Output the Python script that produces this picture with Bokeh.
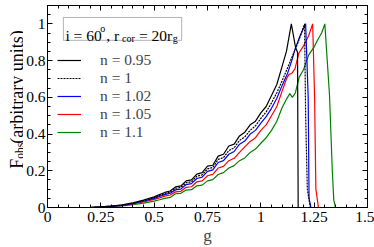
import math
from bokeh.plotting import figure
from bokeh.layouts import row
from bokeh.core.properties import value
from bokeh.models import (FixedTicker, LinearAxis, Range1d, Legend, LegendItem,
                          Label, BoxAnnotation)
from bokeh.embed import file_html
from bokeh.resources import INLINE

FONT = "Liberation Serif, serif"

# ---------------- data ----------------
g_base = [0.15, 0.2, 0.25, 0.3, 0.35, 0.4, 0.45, 0.5,
          0.525, 0.55, 0.575, 0.6, 0.625, 0.65, 0.675, 0.7, 0.725, 0.75,
          0.775, 0.8, 0.825, 0.85, 0.875, 0.9, 0.925, 0.95, 0.975, 1.0,
          1.025, 1.05, 1.075, 1.1]

g_095 = g_base + [1.12, 1.143, 1.163, 1.172, 1.175, 1.2]
f_095 = [0, 0, 0.003, 0.008, 0.015, 0.025, 0.04, 0.058,
         0.07, 0.082, 0.09, 0.112, 0.118, 0.145, 0.15, 0.182, 0.19, 0.225,
         0.23, 0.28, 0.29, 0.335, 0.345, 0.39, 0.41, 0.45, 0.47, 0.515,
         0.55, 0.61, 0.67, 0.77,
         0.85, 1.0, 0.87, 0.845, 0.0, 0.0]

g_100 = g_base + [1.125, 1.15, 1.175, 1.19, 1.205, 1.21, 1.218, 1.232, 1.25]
f_100 = [0, 0, 0.003, 0.007, 0.013, 0.023, 0.037, 0.054,
         0.065, 0.076, 0.084, 0.104, 0.11, 0.135, 0.14, 0.17, 0.178, 0.21,
         0.218, 0.262, 0.272, 0.31, 0.325, 0.365, 0.385, 0.42, 0.445, 0.485,
         0.52, 0.57, 0.625, 0.69,
         0.76, 0.83, 0.9, 0.95, 1.0, 0.5, 0.1, 0.0, 0.0]

g_102 = g_base + [1.125, 1.145, 1.16, 1.182, 1.21, 1.222, 1.226, 1.235, 1.25]
f_102 = [0, 0, 0.003, 0.007, 0.012, 0.021, 0.034, 0.05,
         0.06, 0.07, 0.078, 0.096, 0.1, 0.125, 0.13, 0.158, 0.165, 0.197,
         0.205, 0.245, 0.255, 0.29, 0.305, 0.345, 0.362, 0.4, 0.42, 0.46,
         0.495, 0.54, 0.595, 0.665,
         0.73, 0.8, 0.86, 0.93, 1.0, 0.6, 0.05, 0.0, 0.0]

g_105 = g_base + [1.12, 1.132, 1.145, 1.16, 1.178, 1.2, 1.224, 1.243, 1.252,
                  1.258, 1.27, 1.28]
f_105 = [0, 0, 0.002, 0.006, 0.011, 0.019, 0.03, 0.044,
         0.052, 0.062, 0.068, 0.085, 0.088, 0.11, 0.113, 0.14, 0.145, 0.173,
         0.18, 0.215, 0.224, 0.255, 0.268, 0.3, 0.33, 0.36, 0.38, 0.42,
         0.45, 0.5, 0.55, 0.635,
         0.7, 0.725, 0.73, 0.755, 0.84, 0.88, 0.935, 1.0, 0.6, 0.1, 0.0, 0.0]

g_110 = g_base + [1.12, 1.136, 1.148, 1.162, 1.18, 1.2, 1.224, 1.25, 1.27,
                  1.285, 1.3, 1.322, 1.335, 1.342, 1.35, 1.36]
f_110 = [0, 0, 0.002, 0.005, 0.009, 0.015, 0.024, 0.035,
         0.042, 0.05, 0.055, 0.075, 0.077, 0.095, 0.097, 0.118, 0.122, 0.145,
         0.152, 0.18, 0.19, 0.215, 0.228, 0.255, 0.27, 0.3, 0.318, 0.35,
         0.38, 0.42, 0.47, 0.545,
         0.59, 0.62, 0.6, 0.625, 0.71, 0.75, 0.83, 0.875, 0.92, 0.95, 1.0,
         0.61, 0.2, 0.04, 0.0, 0.0]

series_labels = ["n = 0.95", "n = 1", "n = 1.02", "n = 1.05", "n = 1.1"]
x_ticks = [0, 0.25, 0.5, 0.75, 1.0, 1.25, 1.5]
x_tick_labels = ["0", "0.25", "0.5", "0.75", "1", "1.25", "1.5"]
y_ticks = [0, 0.2, 0.4, 0.6, 0.8, 1.0]
y_tick_labels = ["0", "0.2", "0.4", "0.6", "0.8", "1"]
y_title_parts = ["F", "obs", "(arbitrary units)"]

XMAX = 1.5
YMAX = 1.1
LEFT_W = 23          # width of the strip that carries the y-axis title
H = 247
TOP_B, BOT_B = 5, 39  # borders above / below the frame (page px)

# ---------------- y-title strip ----------------
# its frame spans the same page rows as the main frame; y = -page_y
ytitle = figure(width=LEFT_W, height=H, output_backend="svg", toolbar_location=None,
                x_range=Range1d(0, LEFT_W), y_range=Range1d(-(H - BOT_B), -TOP_B),
                x_axis_location=None, y_axis_location=None,
                min_border=0, min_border_left=0, min_border_right=0,
                min_border_top=TOP_B, min_border_bottom=BOT_B)
ytitle.outline_line_color = None
ytitle.grid.visible = False
ytitle.background_fill_color = "white"
ytitle.border_fill_color = "white"

A = math.pi / 2
ytitle.text(x=[16.5, 16.5], y=[-169, -144],
            text=[y_title_parts[0], y_title_parts[2]], angle=A,
            text_font=value(FONT), text_font_size=value("18px"),
            text_color="black", text_align="left", text_baseline="alphabetic")
ytitle.text(x=[19.0], y=[-159], text=[y_title_parts[1]], angle=A,
            text_font=value(FONT), text_font_size=value("11.5px"),
            text_color="black", text_align="left", text_baseline="alphabetic")

# ---------------- main figure ----------------
p = figure(width=374 - LEFT_W, height=H, output_backend="svg", toolbar_location=None,
           x_range=Range1d(0, XMAX), y_range=Range1d(0, YMAX),
           min_border_left=45 - LEFT_W, min_border_right=7, min_border_top=TOP_B,
           min_border_bottom=BOT_B)
p.background_fill_color = "white"
p.border_fill_color = "white"
p.outline_line_color = "black"
p.outline_line_width = 1
p.grid.visible = False

x_minor = [round(i * 0.05, 2) for i in range(0, 31)]
y_minor = [round(i * 0.05, 2) for i in range(0, 23)]


def style_axis(ax, show_labels):
    ax.axis_line_color = "black"
    ax.major_tick_in = 5
    ax.major_tick_out = 0
    ax.minor_tick_in = 3
    ax.minor_tick_out = 0
    ax.major_tick_line_color = "black"
    ax.minor_tick_line_color = "black"
    ax.major_label_text_font = FONT
    if show_labels:
        ax.major_label_text_font_size = "15.5px"
        ax.major_label_text_color = "black"
    else:
        ax.major_label_text_font_size = "0px"
        ax.major_label_text_color = None
        ax.major_label_standoff = 0


p.xaxis.ticker = FixedTicker(ticks=x_ticks, minor_ticks=x_minor)
p.yaxis.ticker = FixedTicker(ticks=y_ticks, minor_ticks=y_minor)
p.xaxis.major_label_overrides = {t: l for t, l in zip(x_ticks, x_tick_labels)}
p.yaxis.major_label_overrides = {t: l for t, l in zip(y_ticks, y_tick_labels)}
style_axis(p.xaxis[0], True)
style_axis(p.yaxis[0], True)
p.xaxis.major_label_standoff = 4
p.yaxis.major_label_standoff = 2
p.xaxis.axis_label = "g"
p.xaxis.axis_label_text_font = FONT
p.xaxis.axis_label_text_font_size = "17px"
p.xaxis.axis_label_text_font_style = "normal"
p.xaxis.axis_label_standoff = 1

top_ax = LinearAxis(ticker=FixedTicker(ticks=x_ticks, minor_ticks=x_minor))
style_axis(top_ax, False)
p.add_layout(top_ax, "above")
right_ax = LinearAxis(ticker=FixedTicker(ticks=y_ticks, minor_ticks=y_minor))
style_axis(right_ax, False)
p.add_layout(right_ax, "right")

# ---------------- curves ----------------
r110 = p.line(g_110, f_110, line_color="#008000", line_width=1.2)
r105 = p.line(g_105, f_105, line_color="#ff0000", line_width=1.2)
r102 = p.line(g_102, f_102, line_color="#0000ff", line_width=1.2)
r100 = p.line(g_100, f_100, line_color="black", line_width=1.2, line_dash="2 1")
r095 = p.line(g_095, f_095, line_color="black", line_width=1.2)

legend = Legend(items=[LegendItem(label=series_labels[0], renderers=[r095]),
                       LegendItem(label=series_labels[1], renderers=[r100]),
                       LegendItem(label=series_labels[2], renderers=[r102]),
                       LegendItem(label=series_labels[3], renderers=[r105]),
                       LegendItem(label=series_labels[4], renderers=[r110])],
                location=(10, 66))
legend.border_line_color = None
legend.background_fill_alpha = 0
legend.padding = 0
legend.margin = 0
legend.spacing = 0
legend.label_height = 18
legend.glyph_height = 18
legend.glyph_width = 24
legend.label_standoff = 19
legend.label_text_font = FONT
legend.label_text_font_size = "15.5px"
p.add_layout(legend)

# ---------------- inset box (page-pixel helpers) ----------------
PX0, PXW = 45.0, 322.0      # frame left, width on page
PY0, PYH = 208.0, 203.0     # frame bottom, height on page


def gx(px):
    return (px - PX0) / PXW * XMAX


def fy(py):
    return (PY0 - py) / PYH * YMAX


p.add_layout(BoxAnnotation(left=gx(61), right=gx(180), top=fy(17), bottom=fy(40),
                           fill_alpha=0, line_color="black", line_width=1))


def lab(text, px, py, size):
    p.add_layout(Label(x=gx(px), y=fy(py), text=text, text_font=FONT,
                       text_font_size=size, text_color="black",
                       text_align="left", text_baseline="alphabetic"))


lab("i = 60", 63, 35, "15.5px")
lab("o", 98, 28, "10px")
lab(", r", 104, 35, "15.5px")
lab("cor", 120, 38, "10px")
lab("= 20r", 137, 35, "15.5px")
lab("g", 171, 38, "10px")

layout = row(ytitle, p, spacing=0)
open("out.html", "w").write(file_html(layout, INLINE))
